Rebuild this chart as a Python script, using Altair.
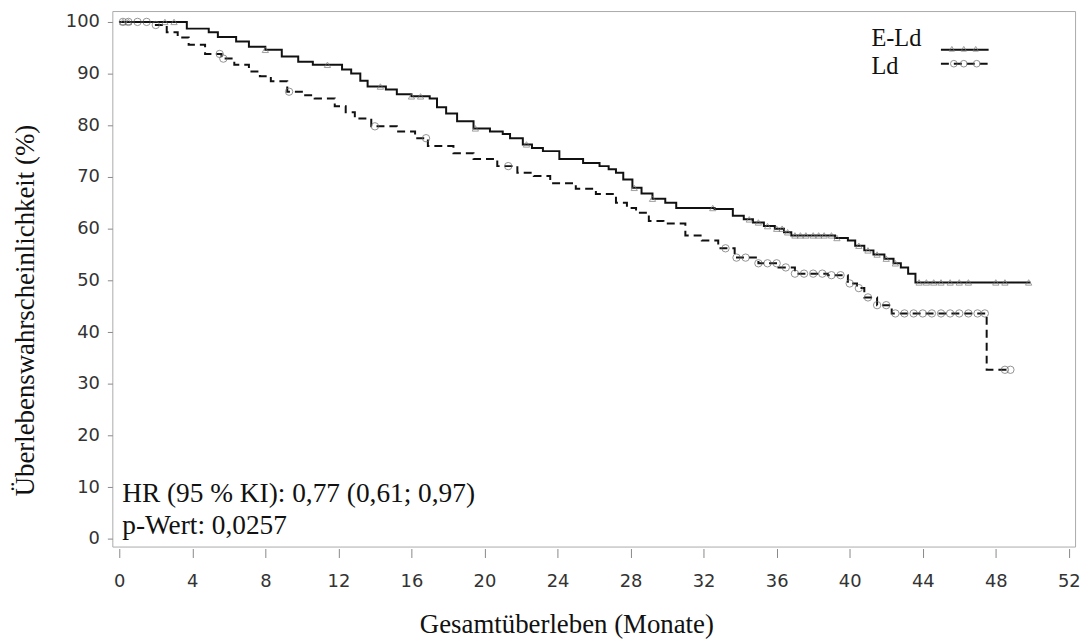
import altair as alt
import pandas as pd

# ---------------- data ----------------
months_eld = [0, 3.7, 4.9, 5.4, 6.4, 7.1, 8.0, 8.9, 9.8, 10.6, 12.2, 12.7, 13.2, 13.6,
              14.6, 15.2, 16.0, 17.0, 17.4, 17.9, 18.5, 19.4, 20.3, 21.0, 21.4, 22.1,
              22.6, 23.2, 24.1, 25.4, 26.3, 26.8, 27.2, 27.6, 28.1, 28.6, 29.2, 29.9,
              30.5, 32.6, 33.6, 34.2, 34.7, 35.3, 35.9, 36.4, 36.8, 39.2, 39.9, 40.3,
              40.8, 41.3, 41.9, 42.4, 42.8, 43.2, 43.6, 49.9]
surv_eld = [100, 98.7, 98.0, 97.1, 96.2, 95.2, 94.6, 93.3, 92.3, 91.7, 90.8, 90.0, 88.6, 87.5,
            86.9, 86.0, 85.6, 85.2, 83.5, 82.3, 80.8, 79.4, 78.8, 78.3, 77.5, 76.3,
            75.6, 75.0, 73.5, 72.7, 72.1, 71.5, 70.8, 69.5, 67.9, 66.8, 65.8, 65.0,
            64.0, 63.8, 62.5, 61.8, 61.2, 60.5, 60.0, 59.3, 58.7, 58.2, 57.7, 56.7,
            55.8, 55.0, 54.2, 53.3, 52.5, 51.3, 49.6, 49.6]

months_ld = [0, 1.8, 2.6, 3.2, 3.8, 4.7, 5.6, 6.3, 7.1, 7.7, 8.3, 9.2, 10.0, 10.7, 11.8,
             12.4, 12.9, 13.8, 15.2, 16.2, 16.9, 18.3, 19.4, 20.7, 21.8, 22.7, 23.6,
             25.0, 26.1, 27.2, 27.8, 28.3, 29.0, 29.8, 31.0, 31.9, 32.8, 33.7, 35.0,
             36.1, 37.0, 38.8, 39.9, 40.4, 40.8, 41.5, 42.3, 47.5, 48.8]
surv_ld = [100, 99.4, 98.0, 97.0, 95.6, 93.8, 92.9, 91.7, 90.4, 89.5, 88.5, 86.5, 85.8, 85.2, 83.7,
           82.5, 81.3, 79.8, 78.8, 77.5, 76.0, 74.6, 73.5, 72.1, 70.8, 70.2, 68.8,
           67.7, 66.7, 65.0, 64.0, 63.1, 61.5, 61.0, 58.7, 57.7, 56.2, 54.4, 53.3,
           52.5, 51.3, 51.0, 49.4, 48.5, 46.7, 45.2, 43.6, 32.7, 32.7]

censor_eld = [0.2, 0.5, 2.5, 3.0, 8.0, 11.4, 14.3, 16.0, 16.5, 19.5, 22.3, 28.2, 29.2,
              32.5, 34.5, 35.0, 35.5, 36.0, 36.3, 36.6, 37.0, 37.3, 37.6, 38.0, 38.3,
              38.6, 39.0, 39.3, 40.5, 41.0, 41.5, 42.0, 42.5, 43.8, 44.2, 44.6, 45.0,
              45.5, 46.0, 46.5, 48.0, 48.5, 49.8]
censor_ld = [0.2, 0.5, 1.0, 1.5, 2.0, 5.5, 5.7, 9.3, 14.0, 16.8, 21.3, 33.2, 33.8, 34.3,
             35.0, 35.5, 36.0, 36.5, 37.0, 37.5, 38.0, 38.5, 39.0, 39.5, 40.0, 40.5,
             41.0, 41.5, 42.0, 42.5, 43.0, 43.5, 44.0, 44.5, 45.0, 45.5, 46.0, 46.5,
             47.0, 47.4, 48.5, 48.8]

groups = ["E-Ld", "Ld"]
x_ticks = list(range(0, 53, 2))
y_ticks = list(range(0, 101, 10))
annotation = ["HR (95 % KI): 0,77 (0,61; 0,97)", "p-Wert: 0,0257"]
x_title = "Gesamtüberleben (Monate)"
y_title = "Überlebenswahrscheinlichkeit (%)"


def step_value(ts, ss, c):
    v = ss[0]
    for t, s in zip(ts, ss):
        if t <= c:
            v = s
    return v


curve_df = pd.concat([
    pd.DataFrame({"t": months_eld, "s": surv_eld, "g": groups[0]}),
    pd.DataFrame({"t": months_ld, "s": surv_ld, "g": groups[1]}),
])
cens_eld_df = pd.DataFrame({"t": censor_eld,
                            "s": [step_value(months_eld, surv_eld, c) for c in censor_eld]})
cens_ld_df = pd.DataFrame({"t": censor_ld,
                           "s": [step_value(months_ld, surv_ld, c) for c in censor_ld]})

xs = alt.Scale(domain=[-0.38, 52.34], nice=False, zero=False)
ys = alt.Scale(domain=[-1.5, 102.1], nice=False, zero=False)

SERIF = "Liberation Serif"
SANS = "DejaVu Sans"

x_axis = alt.Axis(
    values=x_ticks,
    labelExpr="datum.value % 4 === 0 ? datum.label : ''",
    tickSize=9,
    offset=2,
    domain=False,
    grid=False,
    tickColor="#888",
    labelFont=SANS, labelFontSize=18, labelColor="#333",
    labelPadding=15,
    title=x_title, titleFont=SERIF, titleFontSize=27,
    titleFontWeight="normal", titleColor="#111", titlePadding=22,
    titleX=457,
)
y_axis = alt.Axis(
    values=y_ticks,
    tickSize=5,
    domain=False,
    grid=False,
    tickColor="#888",
    labelFont=SANS, labelFontSize=18, labelColor="#333",
    labelPadding=8,
    title=y_title, titleFont=SERIF, titleFontSize=27,
    titleFontWeight="normal", titleColor="#111", titlePadding=26,
    titleY=301,
)

lines = alt.Chart(curve_df).mark_line(interpolate="step-after", strokeWidth=2, color="#111").encode(
    x=alt.X("t:Q", scale=xs, axis=x_axis),
    y=alt.Y("s:Q", scale=ys, axis=y_axis),
    detail="g:N",
    strokeDash=alt.StrokeDash("g:N", scale=alt.Scale(domain=groups, range=[[1, 0], [8, 5]]), legend=None),
)

tri = alt.Chart(cens_eld_df).mark_point(shape="triangle-up", size=40, filled=False,
                                        color="#777", strokeWidth=1).encode(
    x=alt.X("t:Q", scale=xs), y=alt.Y("s:Q", scale=ys))
circ = alt.Chart(cens_ld_df).mark_point(shape="circle", size=55, filled=False,
                                        color="#666", strokeWidth=1).encode(
    x=alt.X("t:Q", scale=xs), y=alt.Y("s:Q", scale=ys))

# annotation text (baselines in plot pixels)
annot_df = pd.DataFrame({"txt": annotation, "py": [494, 526]})
annot = alt.Chart(annot_df).mark_text(align="left", baseline="alphabetic", font=SERIF,
                                      fontSize=27.5, color="#111").encode(
    x=alt.value(10), y=alt.Y("py:Q", scale=None), text="txt:N")

# custom legend
leg_txt_df = pd.DataFrame({"txt": groups, "py": [35, 63]})
leg_txt = alt.Chart(leg_txt_df).mark_text(align="left", baseline="alphabetic", font=SERIF,
                                          fontSize=24.5, color="#111").encode(
    x=alt.value(764), y=alt.Y("py:Q", scale=None), text="txt:N")
leg_line1 = alt.Chart(pd.DataFrame({"a": [0]})).mark_rule(strokeWidth=2, color="#111").encode(
    x=alt.value(834), x2=alt.value(882), y=alt.value(39))
leg_line2 = alt.Chart(pd.DataFrame({"a": [0]})).mark_rule(strokeWidth=2, color="#111",
                                                        strokeDash=[8, 5]).encode(
    x=alt.value(834), x2=alt.value(882), y=alt.value(53))
leg_tri = alt.Chart(pd.DataFrame({"px": [845, 857, 869]})).mark_point(
    shape="triangle-up", size=30, filled=False, color="#777", strokeWidth=1).encode(
    x=alt.X("px:Q", scale=None), y=alt.value(38))
leg_circ = alt.Chart(pd.DataFrame({"px": [847, 857, 870]})).mark_point(
    shape="circle", size=45, filled=False, color="#666", strokeWidth=1).encode(
    x=alt.X("px:Q", scale=None), y=alt.value(53))

chart = alt.layer(lines, tri, circ, annot, leg_txt, leg_line1, leg_line2, leg_tri, leg_circ).properties(
    width=969, height=539,
    autosize=alt.AutoSizeParams(type="none"),
    padding={"left": 105, "top": 1, "right": 8, "bottom": 95},
    background="white",
).configure_view(stroke="#aaa", strokeWidth=1)

chart.save("out.html", embed_options={"renderer": "svg", "actions": False})
